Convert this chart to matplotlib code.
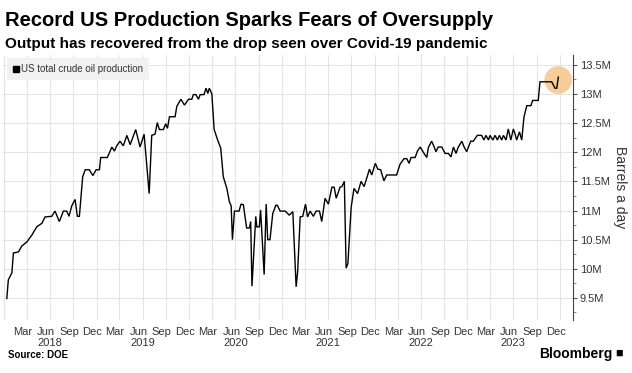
import matplotlib
matplotlib.use("Agg")
import matplotlib.pyplot as plt
import matplotlib.dates as mdates
from matplotlib.lines import Line2D
from matplotlib.ticker import MultipleLocator, FuncFormatter
import pandas as pd
import numpy as np

plt.rcParams['font.family'] = ['Liberation Sans', 'DejaVu Sans']

title = "Record US Production Sparks Fears of Oversupply"
subtitle = "Output has recovered from the drop seen over Covid-19 pandemic"
series_name = "US total crude oil production"
y_label = "Barrels a day"
source = "Source: DOE"

dates = [
    "2018-01-12", "2018-01-18", "2018-02-01", "2018-02-07", "2018-02-27", "2018-03-12",
    "2018-04-01", "2018-04-21", "2018-05-10", "2018-05-30", "2018-06-12", "2018-07-08",
    "2018-07-21", "2018-08-07", "2018-08-23", "2018-09-05", "2018-09-14", "2018-09-25",
    "2018-10-08", "2018-10-17", "2018-10-25", "2018-11-07", "2018-11-17", "2018-12-03",
    "2018-12-17", "2018-12-30", "2019-01-12", "2019-01-17", "2019-02-12", "2019-03-02",
    "2019-03-12", "2019-03-21", "2019-04-03", "2019-04-16", "2019-04-30", "2019-05-13",
    "2019-06-04", "2019-06-21", "2019-07-07", "2019-07-27", "2019-08-06", "2019-08-19",
    "2019-08-28", "2019-09-05", "2019-09-21", "2019-09-30", "2019-10-07", "2019-10-15",
    "2019-11-06", "2019-11-13", "2019-11-29", "2019-12-13", "2019-12-29", "2020-01-11",
    "2020-01-17", "2020-01-27", "2020-02-06", "2020-02-13", "2020-02-28", "2020-03-07",
    "2020-03-14", "2020-03-20", "2020-03-30", "2020-04-08", "2020-04-21", "2020-05-04",
    "2020-05-14", "2020-05-28", "2020-06-07", "2020-06-14", "2020-06-19", "2020-06-27",
    "2020-07-15", "2020-07-23", "2020-08-01", "2020-08-14", "2020-08-25", "2020-08-30",
    "2020-09-04", "2020-09-19", "2020-09-23", "2020-10-03", "2020-10-08", "2020-10-22",
    "2020-10-30", "2020-11-05", "2020-11-14", "2020-11-25", "2020-12-07", "2020-12-13",
    "2020-12-24", "2021-01-13", "2021-01-29", "2021-02-12", "2021-02-25", "2021-03-03",
    "2021-03-13", "2021-03-23", "2021-04-03", "2021-04-11", "2021-04-21", "2021-05-04",
    "2021-05-15", "2021-05-28", "2021-06-06", "2021-06-19", "2021-07-02", "2021-07-16",
    "2021-07-25", "2021-08-02", "2021-08-17", "2021-08-24", "2021-09-03", "2021-09-10",
    "2021-09-17", "2021-09-30", "2021-10-11", "2021-10-25", "2021-11-08", "2021-11-20",
    "2021-12-01", "2021-12-11", "2021-12-20", "2022-01-03", "2022-01-13", "2022-01-24",
    "2022-02-06", "2022-02-17", "2022-03-28", "2022-04-10", "2022-04-26", "2022-05-07",
    "2022-05-16", "2022-05-24", "2022-06-09", "2022-06-18", "2022-06-29", "2022-07-14",
    "2022-07-25", "2022-07-31", "2022-08-13", "2022-08-23", "2022-08-30", "2022-09-08",
    "2022-09-22", "2022-10-05", "2022-10-18", "2022-10-28", "2022-11-07", "2022-11-17",
    "2022-11-26", "2022-12-10", "2022-12-19", "2022-12-29", "2023-01-14", "2023-01-24",
    "2023-02-09", "2023-02-26", "2023-03-07", "2023-03-15", "2023-03-25", "2023-03-31",
    "2023-04-11", "2023-04-20", "2023-04-29", "2023-05-07", "2023-05-16", "2023-05-23",
    "2023-06-02", "2023-06-11", "2023-06-21", "2023-07-01", "2023-07-08", "2023-07-14",
    "2023-07-25", "2023-08-03", "2023-08-12", "2023-08-23", "2023-09-08", "2023-09-15",
    "2023-10-07", "2023-10-14", "2023-11-03", "2023-11-29", "2023-12-12", "2023-12-19",
    "2023-12-25",
]

production_m = [
    9.49, 9.81, 9.93, 10.27, 10.29, 10.39,
    10.46, 10.58, 10.72, 10.78, 10.89, 10.90,
    10.99, 10.81, 10.99, 10.99, 10.90, 11.08,
    11.19, 10.90, 10.90, 11.58, 11.70, 11.70,
    11.60, 11.70, 11.70, 11.91, 11.91, 12.09,
    12.02, 12.11, 12.19, 12.11, 12.29, 12.13,
    12.39, 12.09, 12.31, 11.29, 12.29, 12.31,
    12.51, 12.39, 12.39, 12.49, 12.41, 12.61,
    12.61, 12.79, 12.91, 12.81, 12.91, 12.91,
    12.99, 12.99, 12.91, 12.99, 12.99, 13.10,
    13.01, 13.10, 13.00, 12.39, 12.22, 12.07,
    11.58, 11.38, 11.15, 11.08, 10.50, 10.99,
    10.99, 11.11, 11.10, 10.70, 10.70, 10.81,
    9.70, 10.90, 10.72, 10.72, 11.01, 9.90,
    11.11, 10.50, 10.50, 10.95, 11.09, 11.09,
    10.99, 10.99, 10.92, 10.98, 9.69, 9.95,
    10.89, 10.90, 11.11, 10.89, 10.99, 10.90,
    10.99, 10.99, 10.81, 11.21, 11.11, 11.40,
    11.40, 11.21, 11.40, 11.41, 11.50, 10.01,
    10.09, 11.06, 11.38, 11.29, 11.50, 11.41,
    11.57, 11.71, 11.61, 11.81, 11.71, 11.70,
    11.51, 11.61, 11.61, 11.79, 11.89, 11.89,
    11.81, 11.91, 11.91, 12.02, 12.09, 11.98,
    11.91, 12.08, 12.19, 12.09, 12.01, 12.09,
    12.09, 11.98, 11.98, 11.92, 12.09, 11.98,
    12.09, 12.19, 12.09, 12.01, 12.19, 12.19,
    12.29, 12.29, 12.21, 12.29, 12.21, 12.29,
    12.21, 12.29, 12.21, 12.29, 12.21, 12.29,
    12.21, 12.40, 12.21, 12.40, 12.31, 12.21,
    12.35, 12.21, 12.61, 12.80, 12.80, 12.89,
    12.89, 13.21, 13.21, 13.21, 13.10, 13.10,
    13.29,
]

years = [2018, 2019, 2020, 2021, 2022, 2023]

x = pd.to_datetime(dates)
y = np.array(production_m)

W, H = 632, 373
fig = plt.figure(figsize=(W / 100, H / 100), dpi=100)
ax = fig.add_axes([3 / W, 53 / H, 570 / W, 265 / H])

grid_c = "#e4e4e4"
text_c = "#333333"

# highlight of latest value
ax.scatter([x[-1]], [y[-1] - 0.05], s=400, color="#f6c68a", alpha=0.85,
           edgecolors="none", zorder=2)
ax.plot(x, y, color="black", lw=1.0, zorder=3, solid_joinstyle="miter")

ax.set_xlim(pd.Timestamp("2017-12-28"), pd.Timestamp("2024-02-21"))
ax.set_ylim(9.12, 13.67)

# x axis: labels at mid-month, gridlines at quarter boundaries
ax.xaxis.set_major_locator(mdates.MonthLocator(bymonth=[3, 6, 9, 12], bymonthday=15))
ax.xaxis.set_major_formatter(mdates.DateFormatter("%b"))
ax.xaxis.set_minor_locator(mdates.MonthLocator(bymonth=[1, 4, 7, 10]))
ax.tick_params(axis="x", which="both", length=0, labelsize=8, labelcolor=text_c, pad=5)
ax.grid(True, axis="x", which="minor", color=grid_c, lw=0.8)

for yr in years:
    ax.text(pd.Timestamp(f"{yr}-07-01"), -0.068, str(yr),
            transform=ax.get_xaxis_transform(), ha="center", va="top",
            fontsize=8, color=text_c)

# y axis on the right
ax.yaxis.tick_right()
ax.yaxis.set_label_position("right")
ax.yaxis.set_major_locator(MultipleLocator(0.5))
ax.yaxis.set_minor_locator(MultipleLocator(0.25))
ax.yaxis.set_major_formatter(FuncFormatter(lambda v, p: f"{v:g}M"))
ax.tick_params(axis="y", which="major", length=3, width=0.8, labelsize=8,
               labelcolor=text_c, color="#555555", pad=2)
ax.tick_params(axis="y", which="minor", length=2, width=0.6, color="#777777")
ax.grid(True, axis="y", which="major", color=grid_c, lw=0.8)
ax.set_ylabel(y_label, rotation=270, fontsize=10, color=text_c, labelpad=12)

for s in ["top", "left", "bottom"]:
    ax.spines[s].set_visible(False)
ax.spines["right"].set_color("#444444")
ax.spines["right"].set_linewidth(0.8)
ax.set_axisbelow(True)

handle = Line2D([], [], marker="s", color="black", linestyle="none", markersize=5)
leg = ax.legend([handle], [series_name], loc="upper left", bbox_to_anchor=(0.004, 0.995),
                fontsize=7, frameon=True, fancybox=False, handlelength=0.6,
                handletextpad=0.2, borderpad=0.6, borderaxespad=0.2)
leg.get_frame().set_facecolor("#f1f1f1")
leg.get_frame().set_edgecolor("none")
leg.get_frame().set_alpha(1)
for t in leg.get_texts():
    t.set_color(text_c)

fig.text(5 / W, 1 - 20 / H, title, fontsize=14.5, fontweight="bold",
         ha="left", va="center", color="black")
fig.text(5 / W, 1 - 44 / H, subtitle, fontsize=11, fontweight="bold",
         ha="left", va="center", color="black")
fig.text(8 / W, 1 - 355 / H, source, fontsize=7, fontweight="bold",
         ha="left", va="center", color="black")
fig.text(612 / W, 1 - 354 / H, "Bloomberg", fontsize=10, fontweight="bold",
         ha="right", va="center", color="black")
fig.text(619 / W, 1 - 354 / H, "\u25A0", fontsize=9, ha="center", va="center",
         color="black")

fig.savefig("out.png", dpi=100)
